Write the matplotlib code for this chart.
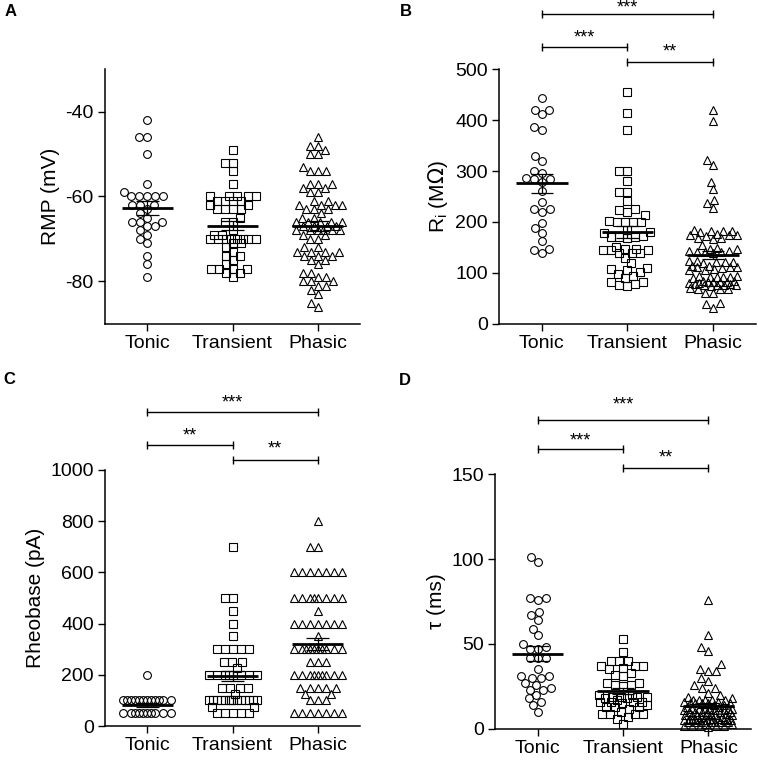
import matplotlib.pyplot as plt
import numpy as np

plt.rcParams['font.family'] = ['Liberation Sans', 'DejaVu Sans']
plt.rcParams['axes.unicode_minus'] = False

groups = ['Tonic', 'Transient', 'Phasic']

# A: resting membrane potential (mV)
rmp_tonic = [-42, -46, -46, -50, -57, -59, -60, -60, -60, -60, -60, -62, -62, -62, -63,
             -64, -65, -66, -66, -66, -67, -67, -68, -69, -70, -71, -74, -76, -79]
rmp_transient = [-49, -52, -52, -54, -57, -60, -60, -60, -60, -60, -61, -61, -61, -61, -62,
                 -62, -63, -63, -63, -63, -65, -66, -66, -68, -69, -69, -70, -70, -70, -70,
                 -70, -70, -70, -70, -71, -71, -72, -73, -74, -74, -75, -76, -77, -77, -77,
                 -77, -78, -78, -79]
rmp_phasic = [-46, -48, -48, -49, -50, -50, -53, -54, -54, -54, -57, -57, -57, -58, -58,
              -59, -59, -61, -61, -62, -62, -62, -62, -63, -63, -63, -64, -65, -65, -66,
              -66, -66, -66, -66, -67, -67, -67, -67, -68, -68, -68, -68, -68, -68, -69,
              -69, -70, -70, -72, -72, -73, -73, -73, -73, -74, -74, -74, -75, -75, -76,
              -78, -78, -79, -79, -80, -80, -80, -81, -81, -82, -83, -85, -86]

# B: input resistance (MOhm)
ri_tonic = [444, 420, 420, 411, 386, 381, 330, 320, 300, 297, 287, 284, 284, 279, 260,
            240, 225, 225, 220, 199, 188, 179, 163, 147, 145, 139]
ri_transient = [455, 413, 380, 300, 300, 280, 259, 258, 241, 225, 223, 220, 213, 202, 200,
                200, 200, 200, 185, 180, 178, 172, 170, 170, 170, 168, 150, 147, 147, 146,
                145, 145, 140, 140, 140, 130, 119, 110, 107, 106, 102, 99, 95, 90, 82,
                82, 78, 77, 75]
ri_phasic = [420, 398, 322, 312, 279, 264, 244, 237, 227, 184, 183, 182, 183, 181, 175,
             174, 176, 173, 175, 168, 167, 169, 155, 149, 148, 147, 142, 143, 141, 142,
             140, 143, 122, 123, 121, 122, 124, 120, 112, 113, 111, 112, 110, 114, 106,
             105, 107, 93, 94, 92, 93, 95, 91, 93, 83, 84, 82, 83, 85, 81, 83,
             80, 79, 77, 76, 78, 77, 75, 77, 69, 70, 68, 69, 60, 61, 41, 40, 32]

# C: rheobase (pA)
rheo_tonic = [200, 100, 100, 100, 100, 100, 100, 100, 100, 100, 100, 100, 100,
              50, 50, 50, 50, 50, 50, 50, 50, 50, 50]
rheo_transient = [700, 500, 500, 450, 400, 350, 300, 300, 300, 300, 300, 250, 250, 250, 225,
                  200, 200, 200, 200, 200, 200, 200, 200, 150, 150, 150, 150, 125,
                  100, 100, 100, 100, 100, 100, 100, 100, 100, 100, 100, 100, 100, 100,
                  75, 75, 50, 50, 50, 50, 50]
rheo_phasic = [800, 700, 700, 600, 600, 600, 600, 600, 600, 600,
               500, 500, 500, 500, 500, 500, 500, 500, 450,
               400, 400, 400, 400, 400, 400, 400, 350,
               300, 300, 300, 300, 300, 300, 300, 300, 300, 300, 250, 250, 250,
               200, 200, 200, 200, 200, 200, 200, 200, 200, 150, 150, 150, 150, 150,
               125, 125, 100, 100, 100, 50, 50, 50, 50, 50, 50, 50]

# D: membrane time constant (ms)
tau_tonic = [101, 98, 77, 77, 76, 69, 67, 64, 59, 55, 50, 48, 47, 47, 42, 42, 42, 35,
             31, 31, 30, 30, 27, 26, 24, 23, 23, 20, 18, 16, 14, 10]
tau_transient = [53, 45, 40, 40, 40, 37, 37, 37, 36, 35, 33, 32, 31, 27, 27, 26, 26, 25,
                 20, 19, 19, 18, 20, 19, 18, 19, 16, 16, 17, 16, 15, 16, 13, 13, 12,
                 13, 14, 9, 9, 10, 9, 9, 6, 7, 3]
tau_phasic = [76, 55, 48, 46, 38, 35, 34, 34, 30, 28, 26, 24, 24, 21, 20, 19,
              17, 17, 18, 17, 16, 17, 17, 15, 15, 14, 15, 15, 16, 15, 14,
              12, 12, 13, 12, 11, 12, 12, 13, 12, 11, 10, 10, 10, 9, 10, 10, 11, 10,
              8, 8, 8, 7, 8, 8, 9, 8, 6, 6, 6, 7, 6, 6, 5, 6, 5, 5, 5, 5, 5, 4, 5,
              4, 4, 4, 3, 4, 4, 4, 3, 2, 2, 2, 1, 2, 2]

markers = ['o', 's', '^']
msizes = [5.6, 5.4, 6.0]


def swarm_x(ax, xc, values, diam=8.0, maxw=24.0):
    # greedy beeswarm in pixel space, spread capped at +-maxw pixels
    vals = np.asarray(values, float)
    p0 = ax.transData.transform((0, 0))
    p1 = ax.transData.transform((1, 1))
    sx, sy = p1 - p0
    ypix = vals * sy
    cand = np.arange(-maxw, maxw + 0.01, 0.5)
    cand = cand[np.argsort(np.abs(cand), kind='stable')]
    offs = np.zeros(len(vals))
    px, py = [], []
    for i in np.argsort(vals, kind='stable'):
        best = 0.0
        if px:
            ax_ = np.array(px)
            ay_ = np.array(py)
            near = np.abs(ay_ - ypix[i]) < diam
            if near.any():
                dx = cand[:, None] - ax_[near][None, :]
                dy = ypix[i] - ay_[near]
                dist = np.sqrt(dx ** 2 + dy[None, :] ** 2).min(axis=1)
                ok = np.where(dist >= diam)[0]
                best = cand[ok[0]] if len(ok) else cand[np.argmax(dist)]
        offs[i] = best
        px.append(best)
        py.append(ypix[i])
    return xc + offs / sx


def draw_group(ax, xc, values, marker, ms):
    xs = swarm_x(ax, xc, values)
    ax.plot(xs, values, ls='none', marker=marker, ms=ms, mfc='none', mec='black',
            mew=0.8, clip_on=False, zorder=3)
    v = np.asarray(values, float)
    m = v.mean()
    sem = v.std(ddof=1) / np.sqrt(len(v))
    ax.hlines(m, xc - 0.3, xc + 0.3, color='black', lw=2.0, zorder=5)
    ax.hlines([m - sem, m + sem], xc - 0.13, xc + 0.13, color='black', lw=0.9, zorder=5)
    ax.vlines(xc, m - sem, m + sem, color='black', lw=0.9, zorder=5)


def sig_bar(ax, x0, x1, y, label, dy):
    ax.plot([x0, x1], [y, y], color='black', lw=1.0, marker='|', ms=6, mew=1.0,
            clip_on=False)
    ax.annotate(label, ((x0 + x1) / 2, y), xytext=(0, dy), textcoords='offset points',
                ha='center', va='baseline', fontsize=13, annotation_clip=False)


fig = plt.figure(figsize=(7.58, 7.60), dpi=100)

panels = [
    ([0.1385, 0.5737, 0.3365, 0.3355], (-90, -30), [-80, -60, -40], 'RMP (mV)',
     [rmp_tonic, rmp_transient, rmp_phasic], []),
    ([0.6583, 0.5737, 0.3390, 0.3355], (0, 500), [0, 100, 200, 300, 400, 500],
     r'R$_\mathregular{i}$ (M$\Omega$)',
     [ri_tonic, ri_transient, ri_phasic],
     [(0, 2, 608, '***', 1), (0, 1, 543, '***', 3), (1, 2, 514, '**', 4)]),
    ([0.1385, 0.0447, 0.3365, 0.3369], (0, 1000), [0, 200, 400, 600, 800, 1000],
     'Rheobase (pA)',
     [rheo_tonic, rheo_transient, rheo_phasic],
     [(0, 2, 1227, '***', 3), (0, 1, 1098, '**', 3), (1, 2, 1039, '**', 5)]),
    ([0.6530, 0.0408, 0.3378, 0.3355], (0, 150), [0, 50, 100, 150], 'τ (ms)',
     [tau_tonic, tau_transient, tau_phasic],
     [(0, 2, 182, '***', 7), (0, 1, 165, '***', 2), (1, 2, 153.5, '**', 4)]),
]

for rect, ylim, yticks, ylabel, data, sigs in panels:
    ax = fig.add_axes(rect)
    ax.set_xlim(-0.5, 2.5)
    ax.set_ylim(*ylim)
    ax.set_yticks(yticks)
    ax.set_xticks(range(3))
    ax.set_xticklabels(groups)
    for s in ['top', 'right']:
        ax.spines[s].set_visible(False)
    for s in ['left', 'bottom']:
        ax.spines[s].set_linewidth(1.1)
    ax.tick_params(direction='out', length=5, width=1.0, labelsize=14, pad=3)
    ax.set_ylabel(ylabel, fontsize=15)
    for i, vals in enumerate(data):
        draw_group(ax, i, vals, markers[i], msizes[i])
    for x0, x1, y, lab, dy in sigs:
        sig_bar(ax, x0, x1, y, lab, dy)

for lab, x, y in [('A', 0.0145, 0.9855), ('B', 0.536, 0.9855),
                  ('C', 0.012, 0.5), ('D', 0.534, 0.4987)]:
    fig.text(x, y, lab, fontsize=12, fontweight='bold', ha='center', va='center')

fig.savefig('out.png', dpi=100)
